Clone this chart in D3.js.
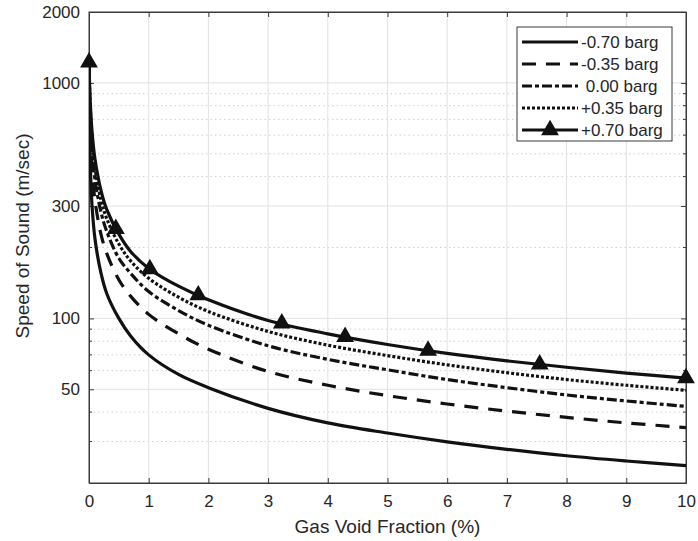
<!DOCTYPE html>
<html>
<head>
<meta charset="utf-8">
<script src="https://cdn.jsdelivr.net/npm/d3@7"></script>
<style>
  body { margin: 0; background: #fff; }
  text { font-family: "Liberation Sans", Arial, sans-serif; fill: #262626; }
</style>
</head>
<body>
<svg id="chart"></svg>
<script>
const width = 698;
const height = 541;

// gas void fraction (%)
const xs = [0, 0.01, 0.02, 0.05, 0.1, 0.2, 0.3, 0.5, 0.7, 1, 1.5, 2, 3, 4, 5, 6, 7, 8, 9, 10];

// speed of sound (m/sec)
const cM070 = [1222, 607, 459, 303, 218, 156, 127, 100, 84, 70, 57.8, 50.8, 41.5, 36, 32.6, 29.9, 27.8, 26.1, 24.8, 23.7];
const cM035 = [1222, 793, 630, 435, 317, 228, 188, 146, 124, 104, 86, 74, 59.5, 52, 47, 43.3, 40.4, 38, 36, 34.4];
const cP000 = [1222, 891, 735, 525, 390, 283, 233, 180, 155, 130, 108, 93.5, 76.5, 67, 60.5, 55, 50.8, 47.3, 44.6, 42.3];
const cP035 = [1222, 942, 795, 582, 437, 319, 264, 207, 175, 148, 123, 107, 88, 77, 69.5, 63.5, 58.8, 55, 52, 49.5];
const cP070 = [1222, 977, 839, 626, 475, 350, 289, 228, 192, 163, 137, 120, 98, 86, 77.5, 71, 66, 62, 58.6, 55.8];

// triangle markers on the +0.70 barg curve
const markX = [0, 0.45, 1.02, 1.83, 3.23, 4.29, 5.68, 7.55, 10];
const markY = [1222, 240, 162, 125.5, 95.3, 83.5, 73, 63.8, 55.8];

const labels = ["-0.70 barg", "-0.35 barg", " 0.00 barg", "+0.35 barg", "+0.70 barg"];
const xTicks = [0, 1, 2, 3, 4, 5, 6, 7, 8, 9, 10];
const yTicks = [50, 100, 300, 1000, 2000];
const yMinor = [30, 40, 60, 70, 80, 90, 200, 400, 500, 600, 700, 800, 900];

const dashes = [null, "14,10", "10,3,4,3", "3,2", null];
const seriesVals = [cM070, cM035, cP000, cP035, cP070];

const margin = {top: 12, right: 12, bottom: 58, left: 89};
const w = width - margin.left - margin.right;
const h = height - margin.top - margin.bottom;

const svg = d3.select("#chart")
    .attr("width", width)
    .attr("height", height);

const x = d3.scaleLinear().domain([0, 10]).range([0, w]);
const y = d3.scaleLog().domain([20, 2000]).range([h, 0]);

const g = svg.append("g")
    .attr("transform", `translate(${margin.left},${margin.top})`);

svg.append("defs").append("clipPath")
    .attr("id", "clip")
  .append("rect")
    .attr("width", w)
    .attr("height", h);

// grid
g.append("g")
    .selectAll("line")
    .data(yMinor)
    .join("line")
        .attr("x1", 0).attr("x2", w)
        .attr("y1", d => y(d)).attr("y2", d => y(d))
        .attr("stroke", "#cfcfcf")
        .attr("stroke-width", 1)
        .attr("stroke-dasharray", "1.5,3");

g.append("g")
    .selectAll("line")
    .data(yTicks.slice(0, 4))
    .join("line")
        .attr("x1", 0).attr("x2", w)
        .attr("y1", d => y(d)).attr("y2", d => y(d))
        .attr("stroke", "#e2e2e2")
        .attr("stroke-width", 1);

g.append("g")
    .selectAll("line")
    .data(xTicks.slice(1, 10))
    .join("line")
        .attr("x1", d => x(d)).attr("x2", d => x(d))
        .attr("y1", 0).attr("y2", h)
        .attr("stroke", "#e2e2e2")
        .attr("stroke-width", 1);

// axes (ticks inside, box)
const tickLen = 5;
const axisColor = "#3a3a3a";

g.append("g")
    .attr("transform", `translate(0,${h})`)
    .call(d3.axisBottom(x).tickValues(xTicks).tickSizeInner(-tickLen).tickSizeOuter(0).tickPadding(12));
g.append("g")
    .call(d3.axisLeft(y).tickValues(yTicks).tickFormat(d3.format("d")).tickSizeInner(-tickLen).tickSizeOuter(0).tickPadding(9));
g.append("g")
    .call(d3.axisTop(x).tickValues(xTicks).tickSizeInner(-tickLen).tickSizeOuter(0).tickFormat(""));
g.append("g")
    .attr("transform", `translate(${w},0)`)
    .call(d3.axisRight(y).tickValues(yTicks).tickSizeInner(-tickLen).tickSizeOuter(0).tickFormat(""));

// minor y ticks
[0, w].forEach(x0 => {
    g.append("g")
        .selectAll("line")
        .data(yMinor)
        .join("line")
            .attr("x1", x0).attr("x2", x0 === 0 ? 3 : w - 3)
            .attr("y1", d => y(d)).attr("y2", d => y(d))
            .attr("stroke", axisColor);
});

g.selectAll(".domain, .tick line").attr("stroke", axisColor);
g.selectAll(".tick text")
    .style("font-size", "17px")
    .attr("fill", "#262626");

g.append("rect")
    .attr("width", w)
    .attr("height", h)
    .attr("fill", "none")
    .attr("stroke", axisColor)
    .attr("stroke-width", 1);

// curves
const line = d3.line()
    .x(d => x(d[0]))
    .y(d => y(d[1]))
    .curve(d3.curveCatmullRom.alpha(0.5));

const curves = g.append("g").attr("clip-path", "url(#clip)");

seriesVals.forEach((vals, i) => {
    curves.append("path")
        .datum(xs.map((v, j) => [v, vals[j]]))
        .attr("fill", "none")
        .attr("stroke", "#111")
        .attr("stroke-width", 3.2)
        .attr("stroke-dasharray", dashes[i])
        .attr("d", line);
});

const tri = d3.symbol().type(d3.symbolTriangle).size(100);

g.append("g")
    .selectAll("path")
    .data(markX.map((v, j) => [v, markY[j]]))
    .join("path")
        .attr("transform", d => `translate(${x(d[0])},${y(d[1])})`)
        .attr("d", tri)
        .attr("fill", "#111")
        .attr("stroke", "#111")
        .attr("stroke-width", 1.5);

// axis labels
svg.append("text")
    .attr("x", margin.left + w / 2)
    .attr("y", 533)
    .attr("text-anchor", "middle")
    .style("font-size", "19px")
    .text("Gas Void Fraction (%)");

svg.append("text")
    .attr("transform", "translate(29,236) rotate(-90)")
    .attr("text-anchor", "middle")
    .style("font-size", "19px")
    .text("Speed of Sound (m/sec)");

// legend
const legend = svg.append("g")
    .attr("transform", "translate(517,27)");

legend.append("rect")
    .attr("width", 155)
    .attr("height", 114)
    .attr("fill", "#fff")
    .attr("stroke", axisColor)
    .attr("stroke-width", 1);

labels.forEach((lab, i) => {
    const ly = 15 + i * 22;
    legend.append("line")
        .attr("x1", 5).attr("x2", 61)
        .attr("y1", ly).attr("y2", ly)
        .attr("stroke", "#111")
        .attr("stroke-width", 3.2)
        .attr("stroke-dasharray", dashes[i]);
    if (i === 4) {
        legend.append("path")
            .attr("transform", `translate(33,${ly})`)
            .attr("d", tri)
            .attr("fill", "#111")
            .attr("stroke", "#111")
            .attr("stroke-width", 1.5);
    }
    legend.append("text")
        .attr("x", 64)
        .attr("y", ly)
        .attr("dy", "0.35em")
        .style("font-size", "17px")
        .style("white-space", "pre")
        .text(lab);
});
</script>
</body>
</html>
